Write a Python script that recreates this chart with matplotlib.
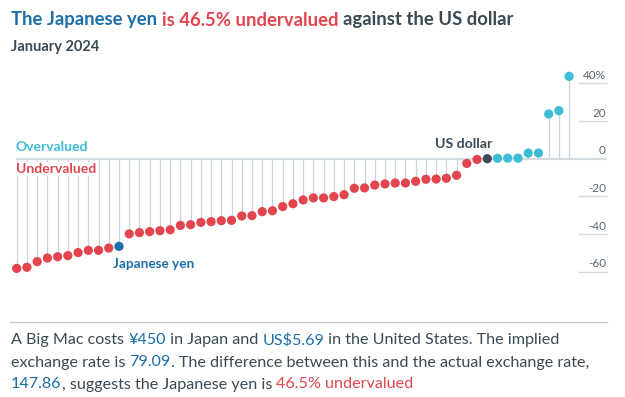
import matplotlib
matplotlib.use("Agg")
import matplotlib.pyplot as plt

# Big Mac index, Jan 2024: valuation against the US dollar (%), sorted
values = [-58.2, -57.6, -54.6, -52.7, -52.0, -51.4, -49.8, -48.6, -48.6, -47.4,
          -46.5, -39.9, -39.2, -38.7, -38.2, -37.7, -35.4, -35.0, -33.8, -33.4,
          -32.9, -32.7, -30.4, -30.2, -28.1, -27.6, -25.4, -23.9, -21.9, -20.8,
          -20.8, -20.1, -19.1, -15.7, -15.5, -14.0, -13.4, -12.9, -12.9, -12.0,
          -10.9, -10.8, -10.4, -8.8, -2.5, -0.4, 0.0, 0.2, 0.3, 0.3,
          3.0, 3.0, 23.7, 25.5, 43.7]
japan_idx = 10
us_idx = 46
yticks = [40, 20, 0, -20, -40, -60]
ytick_labels = ["40%", "20", "0", "-20", "-40", "-60"]

RED = "#e2454e"
BLUE = "#1b6ea8"
LIGHT = "#3dbcd6"
DARK = "#3a4954"
STEM = "#c9d3db"
BASE = "#d3dbe1"

plt.rcParams["font.family"] = ["Lato", "DejaVu Sans"]

W, H = 625, 397
fig = plt.figure(figsize=(W / 100, H / 100), dpi=100)

def px(x, y):
    # pixel (from top-left) -> figure fraction
    return x / W, 1 - y / H

# axes over the whole figure, scale chosen so 0 sits at y=158.7px
step, x0 = 10.23, 16.7
zero, unit = 158.7, 1.885
ax = fig.add_axes([0, 0, 1, 1])
ax.set_xlim(-x0 / step, (W - x0) / step)
ax.set_ylim((zero - H) / unit, zero / unit)
ax.axis("off")

xs = list(range(len(values)))
colors = []
for i, v in enumerate(values):
    if i == japan_idx:
        colors.append(BLUE)
    elif i == us_idx:
        colors.append(DARK)
    elif v < 0:
        colors.append(RED)
    else:
        colors.append(LIGHT)

ax.vlines(xs, 0, values, color=STEM, lw=0.9, zorder=1)
ax.hlines(0, -0.1, 57.7, color=BASE, lw=1.6, zorder=1)
ax.scatter(xs, values, s=44, c=colors, zorder=3, linewidths=0)

# right-hand scale
for t, lab in zip(yticks, ytick_labels):
    if t != 0:
        ax.hlines(t, 54.9, 57.7, color=BASE, lw=1.0)
    ax.text(57.6, t + 4.2, lab, ha="right", va="center", fontsize=8.5,
            color="#5b6770")

# labels in the chart
fig.text(*px(16, 147), "Overvalued", color=LIGHT, fontsize=10,
         weight="bold", va="center")
fig.text(*px(16, 169), "Undervalued", color=RED, fontsize=10,
         weight="bold", va="center",
         bbox=dict(facecolor="white", edgecolor="none", pad=0.5))
fig.text(*px(113, 264), "Japanese yen", color=BLUE, fontsize=9.8,
         weight="bold", va="center")
fig.text(*px(435, 144), "US dollar", color=DARK, fontsize=10.2,
         weight="bold", va="center")

def runs(x, y, parts, size, weight="normal"):
    r = fig.canvas.get_renderer()
    for s, c in parts:
        t = fig.text(*px(x, y), s, color=c, fontsize=size, weight=weight,
                     va="center")
        x += t.get_window_extent(renderer=r).width

runs(11, 20, [("The Japanese yen ", BLUE), ("is 46.5% undervalued ", RED),
              ("against the US dollar", DARK)], 13.3, "bold")
fig.text(*px(11, 47), "January 2024", color=DARK, fontsize=10.5,
         weight="bold", va="center")

fig.add_artist(plt.Line2D([10 / W, 607 / W], [1 - 321.5 / H] * 2,
                          color="#c4ccd2", lw=1.0))
runs(11, 340, [("A Big Mac costs ", DARK), ("¥450", BLUE),
               (" in Japan and ", DARK), ("US$5.69", BLUE),
               (" in the United States. The implied", DARK)], 11.6)
runs(11, 362.5, [("exchange rate is ", DARK), ("79.09", BLUE),
                 (". The difference between this and the actual exchange rate,",
                  DARK)], 11.6)
runs(11, 384.5, [("147.86", BLUE), (", suggests the Japanese yen is ", DARK),
                 ("46.5% undervalued", RED)], 11.6)

fig.savefig("out.png", dpi=100)
